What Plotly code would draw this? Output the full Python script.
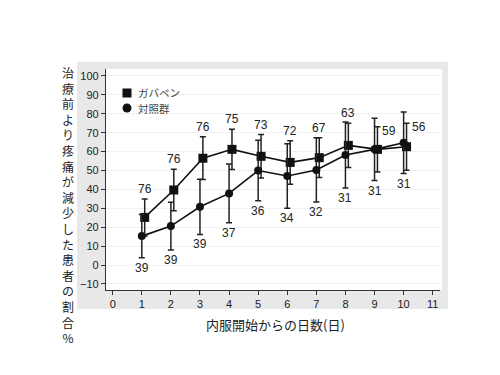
import plotly.graph_objects as go

days = [1, 2, 3, 4, 5, 6, 7, 8, 9, 10]
gaba_vals = [25.2, 39.7, 56.5, 61.2, 57.5, 54.3, 56.8, 63.3, 61.2, 62.6]
gaba_err = [9.8, 11.0, 11.3, 10.6, 11.5, 11.5, 10.5, 11.7, 12.0, 12.4]
gaba_n = [76, 76, 76, 75, 73, 72, 67, 63, 59, 56]
ctrl_vals = [15.3, 20.6, 30.8, 37.9, 50.0, 47.1, 50.3, 58.2, 61.2, 64.7]
ctrl_err = [11.5, 12.6, 14.6, 15.5, 16.0, 17.0, 17.0, 17.5, 16.5, 16.3]
ctrl_n = [39, 39, 39, 37, 36, 34, 32, 31, 31, 31]
legend_names = ["ガバペン", "対照群"]
x_ticks = list(range(0, 12))
y_ticks = list(range(-10, 101, 10))
y_title = "治療前より疼痛が減少した患者の割合%"
x_title = "内服開始からの日数(日)"

W, H = 500, 375
OFF = 8  # page body margin
PL, PR, PT, PB = 106, 440, 69, 290
ML = PL - OFF
MT = PT - OFF
MR = W - (PR - OFF)
MB = H - (PB - OFF)
FONT = "Liberation Sans, Arial, sans-serif"
CJK = "Noto Sans CJK JP"

gaba_x = [d + 0.1 for d in days]

fig = go.Figure()
fig.add_trace(go.Scatter(
    x=gaba_x, y=gaba_vals, mode="lines+markers",
    line=dict(color="#111", width=1.6),
    marker=dict(symbol="square", size=9, color="#111"),
    error_y=dict(type="data", array=gaba_err, color="#222", thickness=1.5, width=3),
    showlegend=False))
fig.add_trace(go.Scatter(
    x=days, y=ctrl_vals, mode="lines+markers",
    line=dict(color="#111", width=1.6),
    marker=dict(symbol="circle", size=8, color="#111"),
    error_y=dict(type="data", array=ctrl_err, color="#222", thickness=1.5, width=3),
    showlegend=False))

ann = []
for i, (x, v, e, n) in enumerate(zip(gaba_x, gaba_vals, gaba_err, gaba_n)):
    if i >= len(days) - 2:
        ann.append(dict(x=x, y=v + e, text=str(n), showarrow=False, xanchor="left",
                        yanchor="middle", xshift=3, yshift=-4, font=dict(family=FONT, size=12, color="#222")))
    else:
        ann.append(dict(x=x, y=v + e, text=str(n), showarrow=False, xanchor="center",
                        yanchor="bottom", yshift=1, font=dict(family=FONT, size=12, color="#222")))
for x, v, e, n in zip(days, ctrl_vals, ctrl_err, ctrl_n):
    ann.append(dict(x=x, y=v - e, text=str(n), showarrow=False, xanchor="center",
                    yanchor="top", yshift=-1, font=dict(family=FONT, size=12, color="#222")))

pw = PR - PL
ph = PB - PT
def px2paper_x(px):
    return (px - PL) / pw
def px2paper_y(py):
    return (PB - py) / ph

shapes = [
    dict(type="rect", xref="paper", yref="paper", layer="below",
         x0=px2paper_x(77), x1=px2paper_x(448), y0=px2paper_y(309), y1=px2paper_y(62),
         fillcolor="#e8e8e8", line=dict(width=0)),
    dict(type="rect", xref="paper", yref="paper", layer="below",
         x0=0, x1=px2paper_x(442), y0=0, y1=1,
         fillcolor="white", line=dict(width=0)),
]

# legend: symbol shapes + name texts
leg_types = ["rect", "circle"]
for i, (t, name) in enumerate(zip(leg_types, legend_names)):
    cy = 93 + 15 * i
    cx = 127
    r = 4.5
    shapes.append(dict(type=t, xref="paper", yref="paper",
                       x0=px2paper_x(cx - r), x1=px2paper_x(cx + r),
                       y0=px2paper_y(cy + r), y1=px2paper_y(cy - r),
                       fillcolor="#111", line=dict(width=0)))
    ann.append(dict(xref="paper", yref="paper", x=px2paper_x(137), y=px2paper_y(cy),
                    text=name, showarrow=False, xanchor="left", yanchor="middle", borderpad=0,
                    font=dict(family=CJK, size=10.5, color="#444")))

# vertical y-axis title, one character per line
ann.append(dict(xref="paper", yref="paper", x=px2paper_x(68), y=px2paper_y(205),
                text="<br>".join(y_title), showarrow=False, xanchor="center", yanchor="middle",
                font=dict(family=CJK, size=12, color="#222")))
ann.append(dict(xref="paper", yref="paper", x=px2paper_x(275), y=px2paper_y(324),
                text=x_title, showarrow=False, xanchor="center", yanchor="middle",
                font=dict(family=CJK, size=13, color="#222")))

fig.update_layout(
    width=W, height=H,
    margin=dict(l=ML, r=MR, t=MT, b=MB),
    paper_bgcolor="white", plot_bgcolor="rgba(0,0,0,0)",
    annotations=ann, shapes=shapes,
    xaxis=dict(range=[-0.23, 11.25], tickvals=x_ticks, showgrid=False, zeroline=False,
               showline=True, linecolor="#333", linewidth=1.2, ticks="outside", ticklen=4,
               tickcolor="#333", tickfont=dict(family=FONT, size=11, color="#222")),
    yaxis=dict(range=[-13.2, 103.7], tickvals=y_ticks, showgrid=True, gridcolor="#f1f1f1",
               zeroline=False, showline=True, linecolor="#333", linewidth=1.2, ticks="outside",
               ticklen=4, tickcolor="#333", tickfont=dict(family=FONT, size=11, color="#222")),
)

fig.write_html("out.html")
